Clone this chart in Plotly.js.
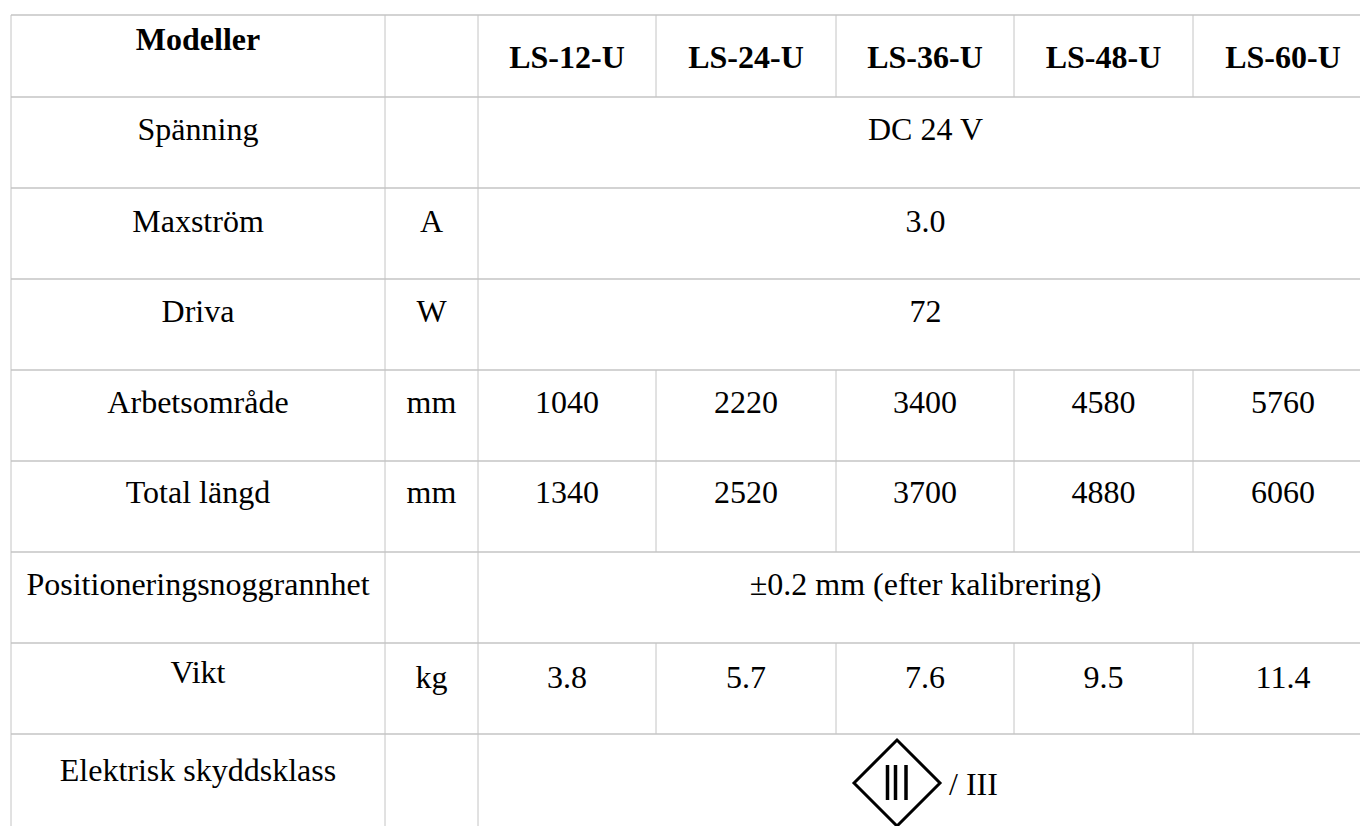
<!DOCTYPE html>
<html>
<head>
<meta charset="utf-8">
<script src="https://cdn.plot.ly/plotly-3.0.1.min.js"></script>
<style>
  html, body { margin: 0; padding: 0; background: #fff; }
  #chart { width: 1360px; height: 826px; }
</style>
</head>
<body>
<div id="chart"></div>
<script>
// ---------- DATA ----------
var headerLabel = 'Modeller';
var models = ['LS-12-U', 'LS-24-U', 'LS-36-U', 'LS-48-U', 'LS-60-U'];
var rowLabels = ['Spänning', 'Maxström', 'Driva', 'Arbetsområde', 'Total längd',
                 'Positioneringsnoggrannhet', 'Vikt', 'Elektrisk skyddsklass'];
var units = ['', 'A', 'W', 'mm', 'mm', '', 'kg', ''];
var spanning = 'DC 24 V';
var maxstrom = '3.0';
var driva = '72';
var arbetsomrade = [1040, 2220, 3400, 4580, 5760];
var totalLangd = [1340, 2520, 3700, 4880, 6060];
var noggrannhet = '±0.2 mm (efter kalibrering)';
var vikt = [3.8, 5.7, 7.6, 9.5, 11.4];
var skyddsklass = '/ III';

// ---------- LAYOUT (pixel geometry of the table) ----------
var colEdges = [11, 385, 478, 656, 836, 1014, 1193, 1373];
var rowEdges = [15, 97, 188, 279, 370, 461, 552, 643, 734, 840];
var labelBase = [43, 44, 43, 43, 42, 43, 40, 47];   // baseline offset below row top
var valueBase = [43, 44, 43, 43, 42, 43, 45, 61];
var FS = 32;
var FONT = 'Liberation Serif, Times New Roman, serif';
var HCOL = '#d3d3d3', VCOL = '#c4c4c4';

function cx(i) { return (colEdges[i] + colEdges[i + 1]) / 2; }
function mid(y) { return y - FS * 0.25; } // baseline -> middle-center text anchor
var mergedX = (colEdges[2] + colEdges[colEdges.length - 1]) / 2;

// body rows: either merged string or per-model array
var bodyValues = [spanning, maxstrom, driva, arbetsomrade, totalLangd, noggrannhet,
                  vikt.map(function (v) { return v.toFixed(1); }), null];

// ---------- TEXT TRACES ----------
var hx = [cx(0)], hy = [mid(rowEdges[0] + 35)], ht = [headerLabel];
models.forEach(function (m, j) { hx.push(cx(2 + j)); hy.push(mid(rowEdges[0] + 53)); ht.push(m); });

var lx = [], ly = [], lt = [];
var vx = [], vy = [], vt = [];
rowLabels.forEach(function (lab, r) {
  var top = rowEdges[r + 1];
  lx.push(cx(0)); ly.push(mid(top + labelBase[r])); lt.push(lab);
  if (units[r]) { lx.push(cx(1)); ly.push(mid(top + valueBase[r])); lt.push(units[r]); }
  var v = bodyValues[r];
  if (v === null) return;
  if (Array.isArray(v)) {
    v.forEach(function (val, j) { vx.push(cx(2 + j)); vy.push(mid(top + valueBase[r])); vt.push(String(val)); });
  } else {
    vx.push(mergedX); vy.push(mid(top + valueBase[r])); vt.push(v);
  }
});

// protection class symbol row
var symRow = rowLabels.length - 1;
var symTop = rowEdges[symRow + 1];
var symCX = mergedX - 28.5, symCY = symTop + 49, symR = 43;

var traces = [
  { type: 'scatter', mode: 'text', x: hx, y: hy, text: ht, hoverinfo: 'skip',
    textposition: 'middle center', cliponaxis: false,
    textfont: { family: FONT, size: FS, color: '#000', weight: 'bold' } },
  { type: 'scatter', mode: 'text', x: lx, y: ly, text: lt, hoverinfo: 'skip',
    textposition: 'middle center', cliponaxis: false,
    textfont: { family: FONT, size: FS, color: '#000' } },
  { type: 'scatter', mode: 'text', x: vx, y: vy, text: vt, hoverinfo: 'skip',
    textposition: 'middle center', cliponaxis: false,
    textfont: { family: FONT, size: FS, color: '#000' } },
  { type: 'scatter', mode: 'text', x: [symCX + symR + 9], y: [mid(symTop + 61)], text: [skyddsklass],
    hoverinfo: 'skip', textposition: 'middle right', cliponaxis: false,
    textfont: { family: FONT, size: FS, color: '#000' } }
];

// ---------- GRID SHAPES ----------
var shapes = [];
var xL = colEdges[0], xR = colEdges[colEdges.length - 1];
rowEdges.slice(0, rowEdges.length - 1).forEach(function (y) {
  shapes.push({ type: 'line', xref: 'x', yref: 'y', x0: xL, x1: xR, y0: y, y1: y,
                line: { color: HCOL, width: 2 } });
});
var yTop = rowEdges[0], yBot = rowEdges[rowEdges.length - 1];
[0, 1, 2, colEdges.length - 1].forEach(function (i) {
  shapes.push({ type: 'line', xref: 'x', yref: 'y', x0: colEdges[i], x1: colEdges[i], y0: yTop, y1: yBot,
                line: { color: VCOL, width: 1 } });
});
// inner model dividers only where rows are not merged (header + array rows)
var splitRows = [-1];
bodyValues.forEach(function (v, r) { if (Array.isArray(v)) splitRows.push(r); });
splitRows.forEach(function (r) {
  var y0 = rowEdges[r + 1], y1 = rowEdges[r + 2];
  for (var i = 3; i < colEdges.length - 1; i++) {
    shapes.push({ type: 'line', xref: 'x', yref: 'y', x0: colEdges[i], x1: colEdges[i], y0: y0, y1: y1,
                  line: { color: VCOL, width: 1 } });
  }
});
// diamond symbol
shapes.push({ type: 'path', xref: 'x', yref: 'y',
  path: 'M' + (symCX - symR) + ',' + symCY + ' L' + symCX + ',' + (symCY - symR) +
        ' L' + (symCX + symR) + ',' + symCY + ' L' + symCX + ',' + (symCY + symR) + ' Z',
  line: { color: '#000', width: 3 }, fillcolor: 'rgba(0,0,0,0)' });
[-9.5, -1.5, 9].forEach(function (dx) {
  shapes.push({ type: 'line', xref: 'x', yref: 'y', x0: symCX + dx, x1: symCX + dx,
                y0: symCY - 18, y1: symCY + 17, line: { color: '#000', width: 3.5 } });
});

var layout = {
  width: 1360, height: 826,
  margin: { l: 0, r: 0, t: 0, b: 0, pad: 0 },
  paper_bgcolor: '#fff', plot_bgcolor: '#fff',
  showlegend: false,
  xaxis: { range: [0, 1360], visible: false, fixedrange: true },
  yaxis: { range: [826, 0], visible: false, fixedrange: true },
  shapes: shapes
};

Plotly.newPlot('chart', traces, layout, { staticPlot: true, displayModeBar: false });
</script>
</body>
</html>
